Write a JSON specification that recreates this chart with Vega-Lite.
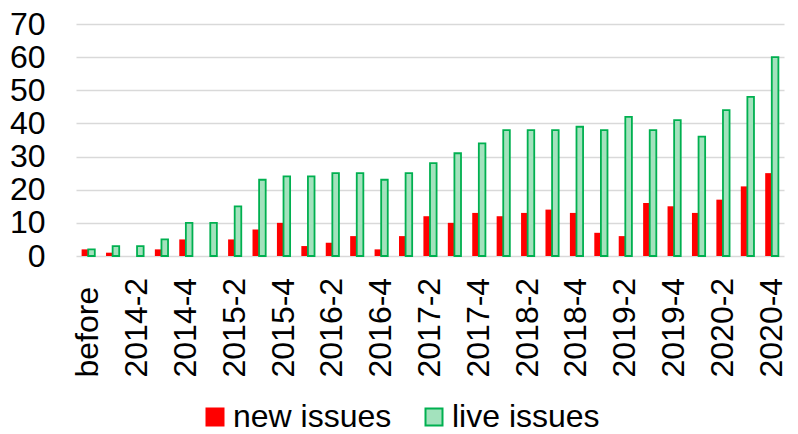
{
  "$schema": "https://vega.github.io/schema/vega-lite/v6.json",
  "width": 708,
  "height": 232,
  "autosize": {"type": "none"},
  "padding": {"left": 76, "top": 24, "right": 14, "bottom": 178},
  "config": {
    "view": {"stroke": null},
    "font": "Liberation Sans",
    "axis": {"labelFont": "Liberation Sans", "labelColor": "#000000"},
    "legend": {"labelFont": "Liberation Sans"}
  },
  "data": {
    "values": [
      {"period": "before", "series": "new issues", "value": 2},
      {"period": "before", "series": "live issues", "value": 2},
      {"period": "2014-1", "series": "new issues", "value": 1},
      {"period": "2014-1", "series": "live issues", "value": 3},
      {"period": "2014-2", "series": "new issues", "value": 0},
      {"period": "2014-2", "series": "live issues", "value": 3},
      {"period": "2014-3", "series": "new issues", "value": 2},
      {"period": "2014-3", "series": "live issues", "value": 5},
      {"period": "2014-4", "series": "new issues", "value": 5},
      {"period": "2014-4", "series": "live issues", "value": 10},
      {"period": "2015-1", "series": "new issues", "value": 0},
      {"period": "2015-1", "series": "live issues", "value": 10},
      {"period": "2015-2", "series": "new issues", "value": 5},
      {"period": "2015-2", "series": "live issues", "value": 15},
      {"period": "2015-3", "series": "new issues", "value": 8},
      {"period": "2015-3", "series": "live issues", "value": 23},
      {"period": "2015-4", "series": "new issues", "value": 10},
      {"period": "2015-4", "series": "live issues", "value": 24},
      {"period": "2016-1", "series": "new issues", "value": 3},
      {"period": "2016-1", "series": "live issues", "value": 24},
      {"period": "2016-2", "series": "new issues", "value": 4},
      {"period": "2016-2", "series": "live issues", "value": 25},
      {"period": "2016-3", "series": "new issues", "value": 6},
      {"period": "2016-3", "series": "live issues", "value": 25},
      {"period": "2016-4", "series": "new issues", "value": 2},
      {"period": "2016-4", "series": "live issues", "value": 23},
      {"period": "2017-1", "series": "new issues", "value": 6},
      {"period": "2017-1", "series": "live issues", "value": 25},
      {"period": "2017-2", "series": "new issues", "value": 12},
      {"period": "2017-2", "series": "live issues", "value": 28},
      {"period": "2017-3", "series": "new issues", "value": 10},
      {"period": "2017-3", "series": "live issues", "value": 31},
      {"period": "2017-4", "series": "new issues", "value": 13},
      {"period": "2017-4", "series": "live issues", "value": 34},
      {"period": "2018-1", "series": "new issues", "value": 12},
      {"period": "2018-1", "series": "live issues", "value": 38},
      {"period": "2018-2", "series": "new issues", "value": 13},
      {"period": "2018-2", "series": "live issues", "value": 38},
      {"period": "2018-3", "series": "new issues", "value": 14},
      {"period": "2018-3", "series": "live issues", "value": 38},
      {"period": "2018-4", "series": "new issues", "value": 13},
      {"period": "2018-4", "series": "live issues", "value": 39},
      {"period": "2019-1", "series": "new issues", "value": 7},
      {"period": "2019-1", "series": "live issues", "value": 38},
      {"period": "2019-2", "series": "new issues", "value": 6},
      {"period": "2019-2", "series": "live issues", "value": 42},
      {"period": "2019-3", "series": "new issues", "value": 16},
      {"period": "2019-3", "series": "live issues", "value": 38},
      {"period": "2019-4", "series": "new issues", "value": 15},
      {"period": "2019-4", "series": "live issues", "value": 41},
      {"period": "2020-1", "series": "new issues", "value": 13},
      {"period": "2020-1", "series": "live issues", "value": 36},
      {"period": "2020-2", "series": "new issues", "value": 17},
      {"period": "2020-2", "series": "live issues", "value": 44},
      {"period": "2020-3", "series": "new issues", "value": 21},
      {"period": "2020-3", "series": "live issues", "value": 48},
      {"period": "2020-4", "series": "new issues", "value": 25},
      {"period": "2020-4", "series": "live issues", "value": 60}
    ]
  },
  "mark": {"type": "bar"},
  "encoding": {
    "x": {
      "field": "period",
      "type": "nominal",
      "sort": null,
      "scale": {"paddingInner": 0.46, "paddingOuter": 0.23},
      "axis": {
        "title": null,
        "labelAngle": -90,
        "labelAlign": "left",
        "labelBaseline": "middle",
        "labelFontSize": 32,
        "labelPadding": 121,
        "ticks": false,
        "domain": false,
        "values": ["before", "2014-2", "2014-4", "2015-2", "2015-4", "2016-2", "2016-4", "2017-2", "2017-4", "2018-2", "2018-4", "2019-2", "2019-4", "2020-2", "2020-4"]
      }
    },
    "xOffset": {"field": "series", "sort": ["new issues", "live issues"]},
    "y": {
      "field": "value",
      "type": "quantitative",
      "scale": {"domain": [0, 70]},
      "axis": {
        "title": null,
        "values": [0, 10, 20, 30, 40, 50, 60, 70],
        "labelFontSize": 32,
        "labelPadding": 31,
        "ticks": false,
        "domain": false,
        "gridColor": "#d9d9d9",
        "gridWidth": 1.5
      }
    },
    "color": {
      "field": "series",
      "type": "nominal",
      "sort": ["new issues", "live issues"],
      "scale": {"domain": ["new issues", "live issues"], "range": ["#ff0000", "#a3e2bd"]},
      "legend": {
        "title": null,
        "orient": "none",
        "direction": "horizontal",
        "legendX": 123,
        "legendY": 377,
        "labelFontSize": 32,
        "labelColor": "#000000",
        "symbolType": "square",
        "symbolSize": 289,
        "symbolStrokeWidth": 2,
        "labelOffset": 2,
        "columnPadding": 26,
        "padding": 0
      }
    },
    "stroke": {
      "field": "series",
      "type": "nominal",
      "sort": ["new issues", "live issues"],
      "scale": {"domain": ["new issues", "live issues"], "range": ["#ff0000", "#00b050"]}
    },
    "strokeWidth": {
      "condition": {"test": "datum.series === 'live issues'", "value": 1.8},
      "value": 0
    }
  }
}
